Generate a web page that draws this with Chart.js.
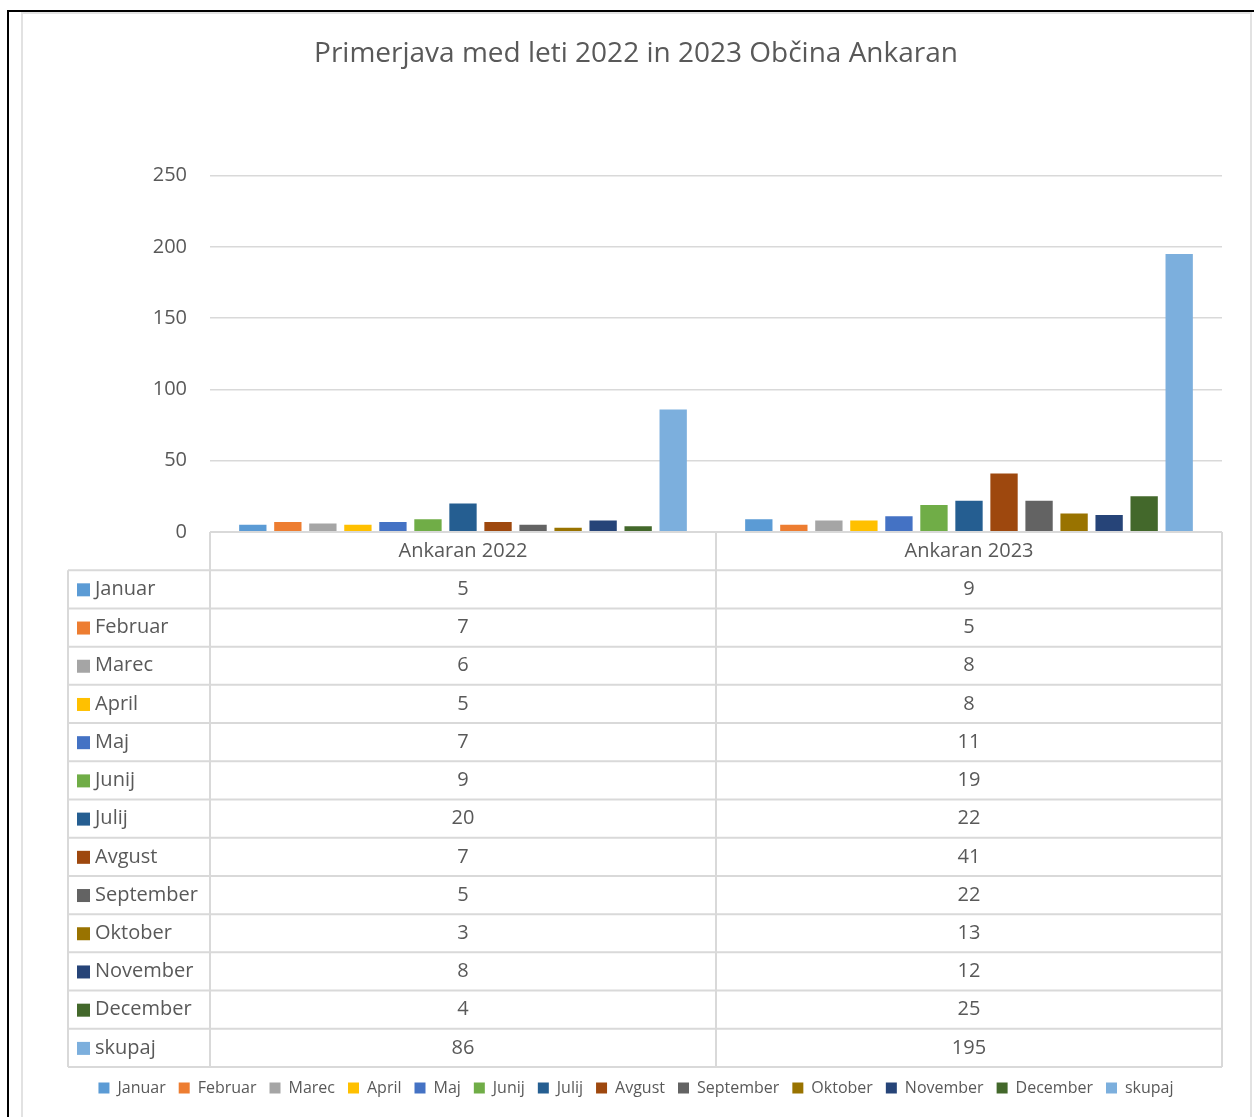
<!DOCTYPE html>
<html>
<head>
<meta charset="utf-8">
<script src="https://cdn.jsdelivr.net/npm/chart.js@4.4.1/dist/chart.umd.min.js"></script>
<style>
  html, body { margin: 0; padding: 0; background: #fff; }
  body { width: 1254px; height: 1117px; position: relative; overflow: hidden; }
  .frame { position: absolute; left: 7px; top: 10px; width: 1260px; height: 1120px;
           border-top: 2px solid #000; border-left: 2px solid #000; }
  .inner { position: absolute; left: 21px; top: 12px; width: 1227px; height: 1120px;
           border: 2px solid #e2e2e2; }
  #wrap { position: absolute; left: 0; top: 0; width: 1254px; height: 1117px; }
</style>
</head>
<body>
<div class="frame"></div>
<div class="inner"></div>
<div id="wrap"><canvas id="chart"></canvas></div>
<script>
const categories = ['Ankaran 2022', 'Ankaran 2023'];
const seriesNames = ['Januar', 'Februar', 'Marec', 'April', 'Maj', 'Junij', 'Julij',
  'Avgust', 'September', 'Oktober', 'November', 'December', 'skupaj'];
const values2022 = [5, 7, 6, 5, 7, 9, 20, 7, 5, 3, 8, 4, 86];
const values2023 = [9, 5, 8, 8, 11, 19, 22, 41, 22, 13, 12, 25, 195];
const seriesColors = ['#5b9bd5', '#ed7d31', '#a5a5a5', '#ffc000', '#4472c4', '#70ad47',
  '#255e91', '#9e480e', '#636363', '#997300', '#264478', '#43682b', '#7cafdd'];
const yTicks = [0, 50, 100, 150, 200, 250];

const TEXT = '#595959';
const LINE = '#d9d9d9';
const FONT = "'Open Sans', sans-serif";

// data table under the plot, laid out on the x scale
const dataTable = {
  id: 'dataTable',
  afterDraw(chart) {
    const { ctx } = chart;
    const x = chart.scales.x;
    const rows = seriesNames.length + 1;
    const rowH = (x.bottom - x.top) / rows;
    const labelLeft = 68;
    const mid = (x.getPixelForTick(0) + x.getPixelForTick(1)) / 2;
    const edges = [x.left, mid, x.right];

    ctx.save();
    ctx.strokeStyle = LINE;
    ctx.lineWidth = 2;
    ctx.beginPath();
    // header top
    ctx.moveTo(x.left, x.top);
    ctx.lineTo(x.right, x.top);
    for (let r = 1; r <= rows; r++) {
      const y = x.top + r * rowH;
      ctx.moveTo(labelLeft, y);
      ctx.lineTo(x.right, y);
    }
    ctx.moveTo(labelLeft, x.top + rowH);
    ctx.lineTo(labelLeft, x.bottom);
    edges.forEach(ex => {
      ctx.moveTo(ex, x.top);
      ctx.lineTo(ex, x.bottom);
    });
    ctx.stroke();

    ctx.fillStyle = TEXT;
    ctx.font = `20px ${FONT}`;
    ctx.textBaseline = 'middle';
    ctx.textAlign = 'center';
    categories.forEach((c, i) => {
      ctx.fillText(c, x.getPixelForTick(i), x.top + rowH / 2);
    });

    seriesNames.forEach((name, i) => {
      const cy = x.top + (i + 1.5) * rowH;
      ctx.fillStyle = seriesColors[i];
      ctx.fillRect(labelLeft + 9, cy - 6, 13, 13);
      ctx.fillStyle = TEXT;
      ctx.textAlign = 'left';
      ctx.fillText(name, labelLeft + 27, cy);
      ctx.textAlign = 'center';
      ctx.fillText(String(values2022[i]), x.getPixelForTick(0), cy);
      ctx.fillText(String(values2023[i]), x.getPixelForTick(1), cy);
    });
    ctx.restore();
  }
};

const datasets = seriesNames.map((name, i) => ({
  label: name,
  data: [values2022[i], values2023[i]],
  backgroundColor: seriesColors[i],
  borderWidth: 0,
  categoryPercentage: 0.9,
  barPercentage: 0.78,
}));

new Chart(document.getElementById('chart'), {
  type: 'bar',
  data: { labels: categories, datasets },
  options: {
    responsive: true,
    maintainAspectRatio: false,
    animation: false,
    layout: { padding: { top: 12, left: 50, right: 32, bottom: 11 } },
    plugins: {
      title: {
        display: true,
        text: 'Primerjava med leti 2022 in 2023 Občina Ankaran',
        color: TEXT,
        font: { family: FONT, size: 28, weight: 'normal' },
        padding: { top: 25, bottom: 105 },
      },
      legend: {
        position: 'bottom',
        labels: {
          color: TEXT,
          boxWidth: 11,
          boxHeight: 11,
          padding: 13,
          font: { family: FONT, size: 16 },
        },
      },
      tooltip: { enabled: false },
    },
    scales: {
      x: {
        grid: { display: false },
        border: { display: false },
        ticks: { display: false },
        afterFit: scale => { scale.height = 535; },
      },
      y: {
        min: 0,
        max: 250,
        afterBuildTicks: scale => { scale.ticks = yTicks.map(v => ({ value: v })); },
        afterFit: scale => { scale.width = 160; },
        grid: { color: LINE, lineWidth: 1.5, drawTicks: false },
        border: { display: false },
        ticks: { color: TEXT, padding: 23, font: { family: FONT, size: 20 } },
      },
    },
  },
  plugins: [dataTable],
});
</script>
</body>
</html>
